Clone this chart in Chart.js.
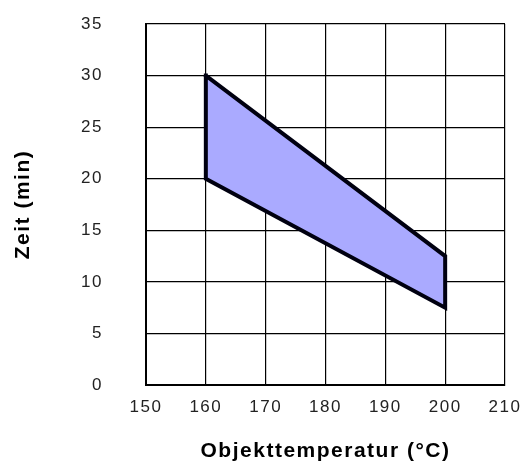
<!DOCTYPE html>
<html>
<head>
<meta charset="utf-8">
<script src="https://cdn.jsdelivr.net/npm/chart.js@4"></script>
<style>
  html, body { margin: 0; padding: 0; background: #fff; }
  #wrap { width: 523px; height: 464px; }
</style>
</head>
<body>
<div id="wrap"><canvas id="c" width="523" height="464"></canvas></div>
<script>
const xTicks = [150, 160, 170, 180, 190, 200, 210];
const yTicks = [0, 5, 10, 15, 20, 25, 30, 35];
const tempX = [160, 200];
const zeitUpper = [30, 12.5];
const zeitLower = [20, 7.5];
const outlineX = [160, 200, 200, 160, 160];
const outlineY = [30, 12.5, 7.5, 20, 30];
const xTitle = 'Objekttemperatur (°C)';
const yTitle = 'Zeit (min)';

const toPts = (xs, ys) => xs.map((x, i) => ({ x: x, y: ys[i] }));

const spacing = {
  id: 'spacing',
  beforeDraw(chart) { chart.ctx.letterSpacing = '1.5px'; }
};

new Chart(document.getElementById('c'), {
  type: 'line',
  data: {
    datasets: [
      {
        data: toPts(tempX, zeitUpper),
        borderWidth: 0,
        borderColor: 'rgba(0,0,0,0)',
        backgroundColor: 'rgb(170,170,255)',
        pointRadius: 0,
        fill: '+1',
        order: 2
      },
      {
        data: toPts(tempX, zeitLower),
        borderWidth: 0,
        borderColor: 'rgba(0,0,0,0)',
        pointRadius: 0,
        fill: false,
        order: 1
      },
      {
        data: toPts(outlineX, outlineY),
        borderWidth: 4,
        borderColor: '#000010',
        borderJoinStyle: 'miter',
        borderCapStyle: 'square',
        pointRadius: 0,
        fill: false,
        tension: 0,
        order: 0
      }
    ]
  },
  plugins: [spacing],
  options: {
    responsive: false,
    animation: false,
    layout: { padding: { top: 24, right: 18, left: 0, bottom: 0 } },
    plugins: {
      legend: { display: false },
      tooltip: { enabled: false },
      filler: { drawTime: 'beforeDatasetsDraw' }
    },
    scales: {
      x: {
        type: 'linear',
        min: 150, max: 210,
        afterBuildTicks(s) { s.ticks = xTicks.map(v => ({ value: v })); },
        afterFit(s) { s.height = 79; s.paddingLeft = 0; s.paddingRight = 0; },
        grid: { color: '#000', lineWidth: 1.2, drawTicks: false },
        border: { color: '#000', width: 2 },
        ticks: { color: '#222', padding: 12, font: { family: 'Liberation Sans, Arial', size: 17 } },
        title: {
          display: true, text: xTitle, color: '#000',
          font: { family: 'Liberation Sans, Arial', size: 21, weight: 'bold' },
          padding: { top: 0, bottom: 0 }
        }
      },
      y: {
        type: 'linear',
        min: 0, max: 35,
        afterBuildTicks(s) { s.ticks = yTicks.map(v => ({ value: v })); },
        afterFit(s) { s.width = 146; s.paddingTop = 0; s.paddingBottom = 0; },
        grid: { color: '#000', lineWidth: 1.2, drawTicks: false },
        border: { color: '#000', width: 2 },
        ticks: { color: '#222', padding: 43, font: { family: 'Liberation Sans, Arial', size: 17 } },
        title: {
          display: true, text: yTitle, color: '#000',
          font: { family: 'Liberation Sans, Arial', size: 21, weight: 'bold' },
          padding: { top: 11, bottom: 0 }
        }
      }
    }
  }
});
</script>
</body>
</html>
